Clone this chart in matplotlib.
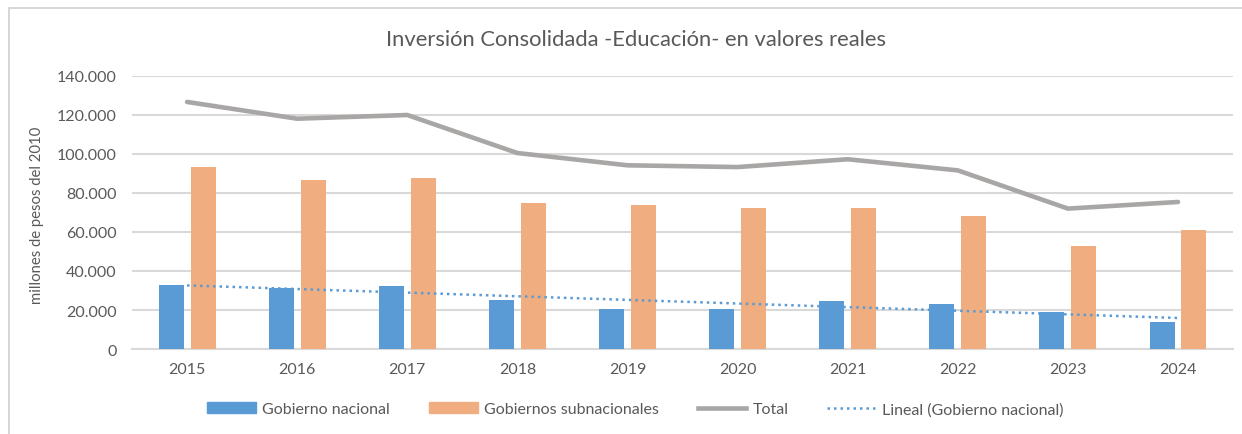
import matplotlib.pyplot as plt
import numpy as np
from matplotlib.patches import Rectangle
from matplotlib.lines import Line2D
from matplotlib.ticker import FuncFormatter

plt.rcParams['font.family'] = ['Lato', 'DejaVu Sans']

anios = ['2015', '2016', '2017', '2018', '2019', '2020', '2021', '2022', '2023', '2024']
gob_nacional = [33000, 31100, 32100, 25300, 20500, 20500, 24400, 22900, 19000, 13800]
gob_subnacionales = [93200, 86500, 87500, 74900, 73600, 72100, 72100, 68400, 52800, 61000]
total = [126700, 118100, 120000, 100500, 94200, 93300, 97300, 91600, 72000, 75400]

x = np.arange(len(anios))

# tendencia lineal (como en excel)
m, b = np.polyfit(x, gob_nacional, 1)
tendencia = m * x + b

azul = '#5b9bd5'
naranja = '#f0ae80'
gris = '#a9a6a6'
texto = '#595959'
grilla = '#d9d9d9'

fig = plt.figure(figsize=(12.42, 4.35), dpi=100)
ax = fig.add_axes([0.1063, 0.1954, 0.8865, 0.6276])

# borde del grafico
fig.patches.append(Rectangle((9 / 1242, -0.1), 1.2, 1.1 - 9 / 435, transform=fig.transFigure,
                             fill=False, edgecolor='#d0d0d0', linewidth=1.2))

ancho = 0.227
ax.bar(x - 0.145, gob_nacional, ancho, color=azul, zorder=3)
ax.bar(x + 0.145, gob_subnacionales, ancho, color=naranja, zorder=3)
ax.plot(x, total, color=gris, linewidth=3.3, zorder=4, solid_capstyle='round')
ax.plot(x, tendencia, color=azul, linewidth=1.8, linestyle=(0, (1, 1.6)), zorder=5)

ax.set_xlim(-0.5, len(anios) - 0.5)
ax.set_ylim(0, 140000)
ax.set_yticks(range(0, 140001, 20000))
ax.yaxis.set_major_formatter(FuncFormatter(lambda v, p: f'{int(v):,}'.replace(',', '.')))
ax.set_xticks(x)
ax.set_xticklabels(anios)
ax.tick_params(length=0, labelsize=11.5, colors=texto)
ax.tick_params(axis='y', pad=11)
ax.tick_params(axis='x', pad=9)
ax.grid(axis='y', color=grilla, linewidth=1.5, zorder=0)
for s in ['top', 'right', 'left']:
    ax.spines[s].set_visible(False)
ax.spines['bottom'].set_color(grilla)
ax.spines['bottom'].set_linewidth(1.5)

ax.set_ylabel('millones de pesos del 2010', fontsize=10.7, color=texto)
ax.yaxis.set_label_coords(-0.0799, 0.494)
fig.text(0.512, 0.908, 'Inversión Consolidada -Educación- en valores reales',
         ha='center', va='center', fontsize=15.8, color=texto)

handles = [Rectangle((0, 0), 1, 1, color=azul), Rectangle((0, 0), 1, 1, color=naranja),
           Line2D([], [], color=gris, linewidth=3.3),
           Line2D([], [], color=azul, linewidth=1.8, linestyle=(0, (1, 1.6)))]
labels = ['Gobierno nacional', 'Gobiernos subnacionales', 'Total', 'Lineal (Gobierno nacional)']
fig.legend(handles, labels, loc='center', bbox_to_anchor=(0.5117, 0.057), ncol=4, frameon=False,
           fontsize=11.5, labelcolor=texto, handlelength=3.06, handleheight=0.65,
           columnspacing=2.44, handletextpad=0.37)

fig.savefig('out.png', dpi=100)
